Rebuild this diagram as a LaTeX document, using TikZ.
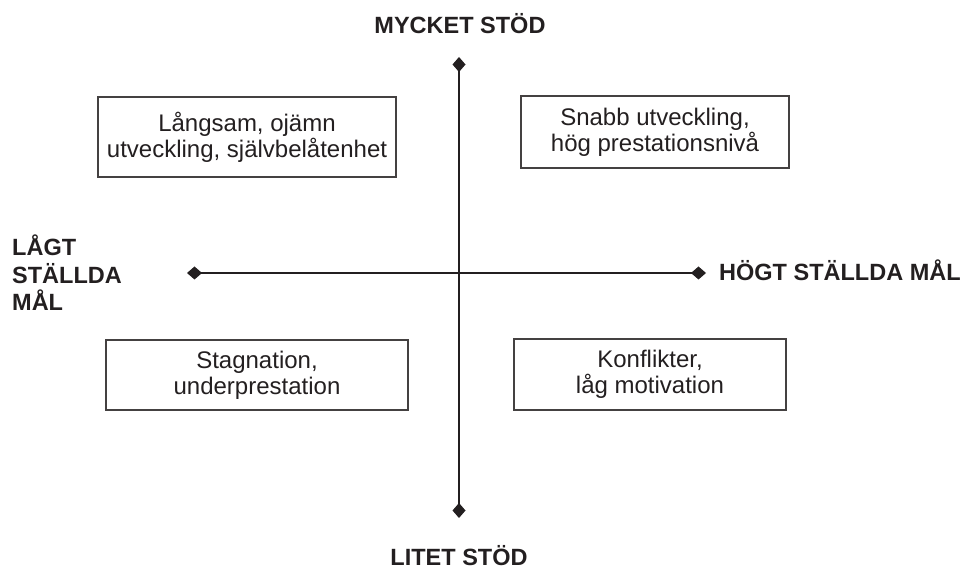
\documentclass[tikz,border=0pt]{standalone}
\usepackage{fontspec}
\setmainfont{Liberation Sans}
\usetikzlibrary{arrows.meta}
\definecolor{ink}{HTML}{231F20}
\begin{document}
\begin{tikzpicture}[x=1pt,y=-1pt,
  quadbox/.style={draw=ink!85, line width=1.2pt, inner sep=0pt, align=center,
    text=ink, font=\fontsize{24}{26}\selectfont},
  axislabel/.style={text=ink, inner sep=0pt, font=\bfseries\fontsize{23.5}{27}\selectfont},
  axisline/.style={draw=ink, line width=2.8pt, {Diamond[length=15pt,width=13pt]}-{Diamond[length=15pt,width=13pt]}}]
\useasboundingbox (0,0) rectangle (969,569);
% axes
\coordinate (vt) at (459,57);
\coordinate (vb) at (459,518);
\coordinate (hl) at (187,273);
\coordinate (hr) at (706,273);
\draw[axisline] (vt) -- (vb);
\draw[axisline] (hl) -- (hr);
% boxes
\node[quadbox, minimum width=298pt, minimum height=80pt] (tl) at (247,137) {Långsam, ojämn\\utveckling, självbelåtenhet};
\node[quadbox, minimum width=268pt, minimum height=72pt] (tr) at (655,132) {Snabb utveckling,\\hög prestationsnivå};
\node[quadbox, minimum width=302pt, minimum height=70pt] (bl) at (257,375) {Stagnation,\\underprestation};
\node[quadbox, minimum width=272pt, minimum height=71pt] (br) at (650,374.5) {Konflikter,\\låg motivation};
% labels
\node[axislabel, anchor=base] (top) at (460,34) {MYCKET STÖD};
\node[axislabel, anchor=base] (bot) at (459,565) {LITET STÖD};
\node[axislabel, anchor=base west] (right) at (719,280) {HÖGT STÄLLDA MÅL};
\node[axislabel, anchor=base west] (l1) at (12,256) {LÅGT};
\node[axislabel, anchor=base west] (l2) at (12,284) {STÄLLDA};
\node[axislabel, anchor=base west] (l3) at (12,310) {MÅL};
\end{tikzpicture}
\end{document}
